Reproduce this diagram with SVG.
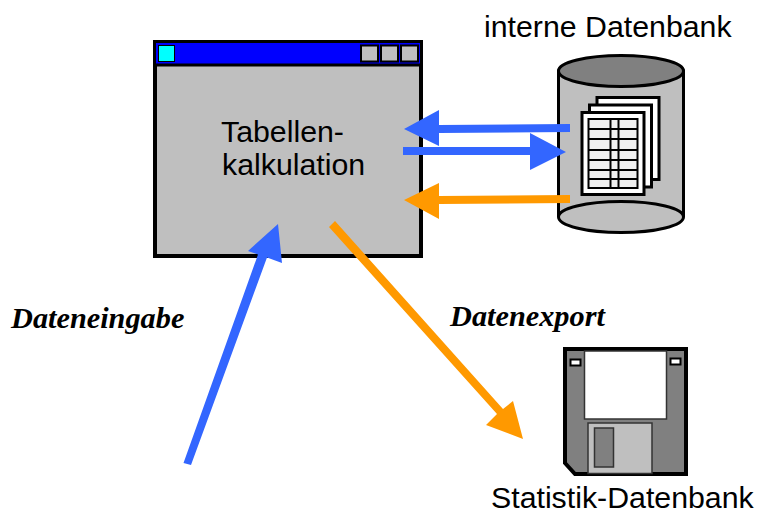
<svg xmlns="http://www.w3.org/2000/svg" width="757" height="515" viewBox="0 0 757 515">
<style>
.s{font-family:"Liberation Sans",Arial,sans-serif;font-size:30.300px;fill:#000}
.l{font-family:"Liberation Serif","Times New Roman",serif;font-size:30.300px;font-weight:bold;font-style:italic;fill:#000}
.k{stroke:#000;stroke-width:2}
.b{fill:#bfbfbf}
.g{fill:#808080}
.w{fill:#fff}
.blue{fill:#3366ff}
.org{fill:#ff9900}
</style>
<rect width="757" height="515" fill="#fff"/>
<g id="window">
<rect x="155" y="42" width="266" height="214" class="b" stroke="#000" stroke-width="4"/>
<rect x="156" y="43" width="264" height="22" fill="#0000ff"/>
<line x1="155" y1="65" x2="421" y2="65" stroke="#000" stroke-width="3"/>
<rect x="158.500" y="45.500" width="16" height="16" fill="#00ffff" stroke="#000" stroke-width="1"/>
<rect x="361" y="45.500" width="17" height="16" class="b k"/>
<rect x="381" y="45.500" width="17" height="16" class="b k"/>
<rect x="401" y="45.500" width="17" height="16" class="b k"/>
<text x="221" y="142" class="s">Tabellen-</text>
<text x="222" y="175" class="s">kalkulation</text>
</g>
<g id="database">
<text x="484" y="37" class="s">interne Datenbank</text>
<path d="M558.500 71V217A62.500 15.500 0 0 0 683.500 217V71Z" class="b" stroke="#000" stroke-width="3"/>
<ellipse cx="621" cy="71" rx="62.500" ry="15.500" class="g" stroke="#000" stroke-width="3"/>
<path d="M558.500 217A62.500 15.500 0 0 1 683.500 217" fill="none" stroke="#000" stroke-width="3"/>
<rect x="597" y="97.500" width="62" height="82" class="w" stroke="#000" stroke-width="3"/>
<rect x="589.500" y="105" width="62" height="82" class="w" stroke="#000" stroke-width="3"/>
<rect x="582" y="112.500" width="62" height="82" class="w" stroke="#000" stroke-width="3"/>
<rect x="588.500" y="119" width="49" height="69" fill="#f0f0f0" stroke="#000" stroke-width="2"/>
<path d="M589 129H637M589 139H637M589 150H637M589 160H637M589 170H637M589 179H637" stroke="#000" stroke-width="2" fill="none"/>
<path d="M610.500 119V188M618.500 119V188" stroke="#000" stroke-width="2" fill="none"/>
</g>
<g id="floppy">
<path d="M565 349H686V474H575L565 463Z" class="g" stroke="#000" stroke-width="4"/>
<rect x="584.500" y="351" width="82" height="68" class="w" stroke="#333" stroke-width="1.500"/>
<rect x="570.500" y="359.500" width="10" height="6" class="w" stroke="#000" stroke-width="2"/>
<rect x="670.500" y="358.500" width="10" height="6" class="w" stroke="#000" stroke-width="2"/>
<rect x="588" y="423" width="64" height="50.500" class="b" stroke="#333" stroke-width="1.500"/>
<rect x="594.500" y="428" width="19" height="39" class="g" stroke="#333" stroke-width="1.500"/>
<text x="491" y="508" class="s">Statistik-Datenbank</text>
</g>
<g id="connectors">
<path class="blue" d="M570 124L439 125V110L404 129L439 146V133L570 132Z"/>
<path class="blue" d="M403 147H530V133L566 152L530 170V155H403Z"/>
<path class="org" d="M570 195L439 196V183L404 200L439 219V204L570 203Z"/>
<path class="blue" d="M183.500 463L258 254.500L248 251L278 224L282 263L267 257.500L191 465Z"/>
<path class="org" d="M335 221L503 409L513 401L523 439L486 425L497 414L329 227Z"/>
</g>
<g id="labels">
<text x="11" y="328" class="l">Dateneingabe</text>
<text x="450" y="326" class="l">Datenexport</text>
</g>
</svg>
